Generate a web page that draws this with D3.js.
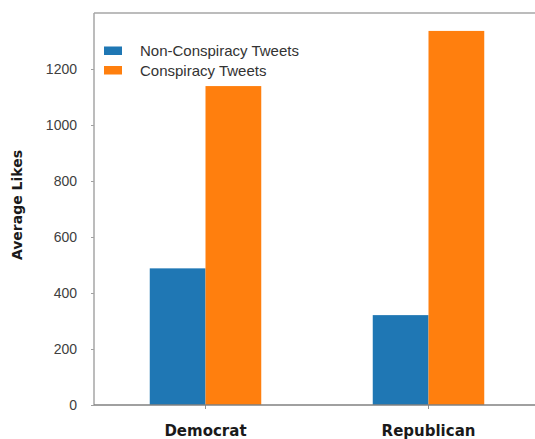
<!DOCTYPE html>
<html>
<head>
<meta charset="utf-8">
<script src="https://cdn.jsdelivr.net/npm/d3@7"></script>
<style>
  html, body { margin: 0; padding: 0; background: #fff; overflow: hidden; }
  svg { display: block; }
</style>
</head>
<body>
<svg id="chart" width="535" height="439"></svg>
<script>
// Average likes by party, split by tweet type
const categories = ["Democrat", "Republican"];
const seriesNames = ["Non-Conspiracy Tweets", "Conspiracy Tweets"];
const nonConspiracy = [488, 321];
const conspiracy = [1139, 1336];
const yTicks = [0, 200, 400, 600, 800, 1000, 1200];
const colors = ["#1f77b4", "#ff7f0e"];

const seriesValues = [nonConspiracy, conspiracy];
const rows = categories.map((c, i) => ({
  category: c,
  values: seriesNames.map((s, j) => ({ series: s, value: seriesValues[j][i], idx: j }))
}));

const W = 535, H = 439;
const plotLeft = 94, plotTop = 13, plotBottom = 405, plotRight = 540;

const svg = d3.select("#chart");

const y = d3.scaleLinear().domain([0, 1400]).range([plotBottom, plotTop]);
const x0 = d3.scaleBand().domain(categories).range([plotLeft, plotRight]).padding(0);
const bw = x0.bandwidth();
const x1 = d3.scaleBand().domain(seriesNames).range([bw * 0.25, bw * 0.75]).padding(0);

// plot frame: top edge
svg.append("line")
  .attr("x1", plotLeft).attr("x2", W)
  .attr("y1", plotTop).attr("y2", plotTop)
  .attr("stroke", "#a6a6a6").attr("stroke-width", 1.5);

// bars
const groups = svg.append("g").selectAll("g")
  .data(rows).join("g")
  .attr("transform", d => `translate(${x0(d.category)},0)`);

groups.selectAll("rect")
  .data(d => d.values).join("rect")
  .attr("x", d => x1(d.series))
  .attr("width", x1.bandwidth())
  .attr("y", d => y(d.value))
  .attr("height", d => y(0) - y(d.value))
  .attr("fill", d => colors[d.idx]);

// y axis
const yAxis = d3.axisLeft(y).tickValues(yTicks).tickSize(3).tickPadding(14).tickFormat(d3.format("d"));
const gy = svg.append("g").attr("transform", `translate(${plotLeft},0)`).call(yAxis);
gy.select(".domain").remove();
gy.selectAll(".tick line").attr("stroke", "#a0a0a0");
gy.selectAll(".tick text")
  .attr("fill", "#404040")
  .style("font-family", "'Liberation Sans', Arial, sans-serif")
  .style("font-size", "14px");
svg.append("line")
  .attr("x1", plotLeft).attr("x2", plotLeft)
  .attr("y1", plotTop).attr("y2", plotBottom)
  .attr("stroke", "#a6a6a6").attr("stroke-width", 1.5);

// x axis
const xAxis = d3.axisBottom(x0).tickSize(4).tickPadding(16);
const gx = svg.append("g").attr("transform", `translate(0,${plotBottom})`).call(xAxis);
gx.select(".domain").remove();
gx.selectAll(".tick line").attr("stroke", "#909090");
gx.selectAll(".tick text")
  .attr("fill", "#1a1a1a")
  .style("font-family", "'DejaVu Sans', sans-serif")
  .style("font-weight", "bold")
  .style("font-size", "15px");
svg.append("line")
  .attr("x1", plotLeft).attr("x2", W)
  .attr("y1", plotBottom).attr("y2", plotBottom)
  .attr("stroke", "#808080").attr("stroke-width", 1.5);

// y axis title
svg.append("text")
  .attr("transform", "translate(22,205) rotate(-90)")
  .attr("text-anchor", "middle")
  .attr("fill", "#1a1a1a")
  .style("font-family", "'DejaVu Sans', sans-serif")
  .style("font-weight", "bold")
  .style("font-size", "14px")
  .text("Average Likes");

// legend
const legend = svg.append("g").selectAll("g")
  .data(seriesNames).join("g")
  .attr("transform", (d, i) => `translate(104,${46.5 + i * 19.5})`);
legend.append("rect")
  .attr("width", 18).attr("height", 8.5)
  .attr("fill", (d, i) => colors[i]);
legend.append("text")
  .attr("x", 36).attr("y", 4.5)
  .attr("dy", "0.35em")
  .attr("fill", "#333")
  .style("font-family", "'Liberation Sans', Arial, sans-serif")
  .style("font-size", "15px")
  .text(d => d);
</script>
</body>
</html>
